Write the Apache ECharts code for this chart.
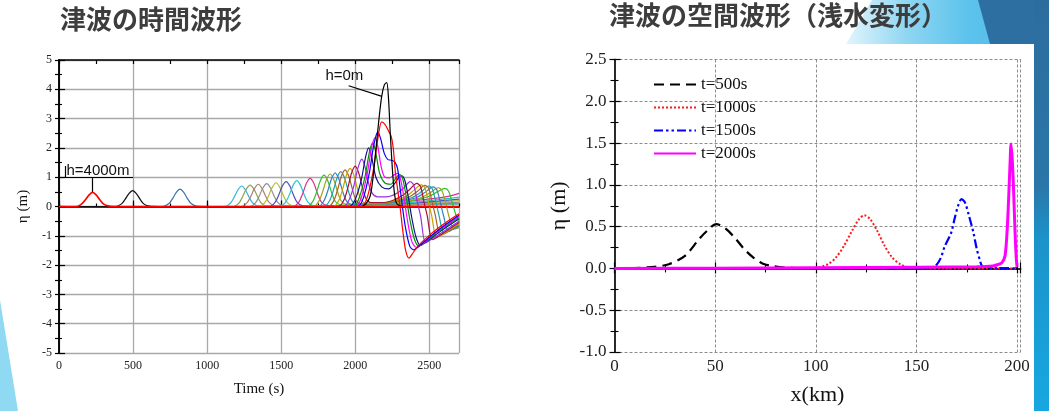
<!DOCTYPE html>
<html><head><meta charset="utf-8">
<script src="https://cdn.jsdelivr.net/npm/echarts@6/dist/echarts.min.js"></script>
<style>html,body{margin:0;padding:0;background:#fff}#c{width:1049px;height:411px}</style>
</head><body><div id="c"></div>
<script>
// ---------- Left chart: tsunami time waveforms (t [s], eta [m]) ----------
const leftXTicks = [0, 500, 1000, 1500, 2000, 2500];
const leftYTicks = [-5, -4, -3, -2, -1, 0, 1, 2, 3, 4, 5];
const h4000 = [[0,0],[117,0],[152,0.08],[177,0.22],[202,0.39],[227,0.48],[252,0.39],[277,0.22],[302,0.08],[340,0.01],[400,0],[2700,0]];
const g02 = [[0,0],[380,0],[422,0.09],[447,0.25],[472,0.44],[497,0.54],[522,0.44],[547,0.25],[572,0.09],[610,0.01],[680,0],[2700,0]];
const g03 = [[0,0],[700,0],[742,0.1],[767,0.27],[792,0.48],[817,0.59],[842,0.48],[867,0.27],[892,0.1],[930,0.01],[1000,0],[2700,0]];
const b01 = [[0,0],[1120,0],[1158,0.12],[1183,0.32],[1208,0.57],[1233,0.7],[1258,0.57],[1283,0.32],[1308,0.12],[1345,0.02],[1500,0.01],[2000,0.02],[2400,0.05],[2700,0.08]];
const b02 = [[0,0],[1177,0],[1215,0.12],[1240,0.34],[1265,0.6],[1290,0.73],[1315,0.6],[1340,0.34],[1365,0.12],[1402,0.02],[1550,0.01],[2000,0.02],[2400,0.06],[2700,0.1]];
const b03 = [[0,0],[1232,0],[1270,0.13],[1295,0.35],[1320,0.62],[1345,0.76],[1370,0.62],[1395,0.35],[1420,0.13],[1457,0.02],[1600,0.01],[2000,0.03],[2400,0.07],[2700,0.12]];
const b04 = [[0,0],[1290,0],[1327,0.13],[1352,0.36],[1377,0.64],[1402,0.78],[1427,0.64],[1452,0.36],[1477,0.13],[1514,0.02],[1650,0.01],[2000,0.03],[2400,0.08],[2700,0.15]];
const b05 = [[0,0],[1352,0],[1390,0.14],[1415,0.37],[1440,0.66],[1465,0.81],[1490,0.66],[1515,0.37],[1540,0.14],[1577,0.02],[1700,0.01],[2000,0.03],[2400,0.1],[2700,0.2]];
const b06 = [[0,0],[1420,0],[1458,0.14],[1483,0.39],[1508,0.7],[1533,0.85],[1558,0.7],[1583,0.39],[1608,0.14],[1645,0.02],[1750,0.01],[2000,0.04],[2400,0.12],[2700,0.25]];
const b07 = [[0,0],[1492,0],[1530,0.15],[1555,0.4],[1580,0.72],[1605,0.88],[1630,0.72],[1655,0.4],[1680,0.15],[1717,0.03],[1800,0.02],[2000,0.05],[2400,0.15],[2700,0.32]];
const b08 = [[0,0],[1582,0],[1620,0.16],[1645,0.44],[1670,0.79],[1695,0.96],[1720,0.79],[1745,0.44],[1770,0.16],[1807,0.04],[1900,0.03],[2100,0.07],[2400,0.2],[2600,0.32],[2700,0.45]];
const b09 = [[0,0],[1676,0],[1714,0.18],[1739,0.49],[1764,0.88],[1789,1.07],[1814,0.88],[1839,0.49],[1864,0.18],[1900,0.06],[2000,0.05],[2200,0.1],[2400,0.22],[2500,0.35],[2560,0.52],[2605,0.62],[2630,0.52],[2655,0.12],[2680,-0.3],[2700,-0.55]];
const b10 = [[0,0],[1717,0],[1755,0.19],[1780,0.51],[1805,0.91],[1830,1.11],[1855,0.91],[1880,0.51],[1905,0.19],[1940,0.07],[2050,0.06],[2250,0.12],[2420,0.26],[2500,0.45],[2560,0.64],[2585,0.54],[2610,0.12],[2630,-0.3],[2665,-0.77],[2700,-0.72]];
const b11 = [[0,0],[1751,0],[1789,0.2],[1814,0.53],[1839,0.94],[1864,1.15],[1889,0.94],[1914,0.53],[1939,0.2],[1975,0.07],[2080,0.07],[2250,0.14],[2400,0.28],[2470,0.48],[2525,0.67],[2550,0.57],[2575,0.12],[2595,-0.3],[2630,-0.85],[2665,-0.76],[2700,-0.68]];
const b12 = [[0,0],[1789,0],[1827,0.2],[1852,0.55],[1877,0.98],[1902,1.19],[1927,0.98],[1952,0.55],[1977,0.2],[2012,0.08],[2100,0.08],[2250,0.15],[2380,0.3],[2445,0.5],[2495,0.7],[2520,0.6],[2545,0.12],[2565,-0.3],[2600,-0.93],[2640,-0.82],[2700,-0.65]];
const b13 = [[0,0],[1818,0],[1856,0.21],[1881,0.58],[1906,1.03],[1931,1.25],[1956,1.03],[1981,0.58],[2006,0.21],[2041,0.09],[2120,0.09],[2250,0.16],[2360,0.32],[2420,0.52],[2470,0.72],[2495,0.62],[2520,0.12],[2540,-0.3],[2575,-0.99],[2615,-0.88],[2700,-0.62]];
const b14 = [[0,0],[1852,0],[1890,0.22],[1915,0.6],[1940,1.07],[1965,1.3],[1990,1.07],[2015,0.6],[2040,0.22],[2075,0.1],[2150,0.1],[2250,0.18],[2340,0.34],[2395,0.55],[2445,0.74],[2470,0.64],[2495,0.12],[2515,-0.3],[2550,-1.06],[2590,-0.95],[2700,-0.58]];
const b15 = [[0,0],[1886,0],[1924,0.23],[1949,0.63],[1974,1.13],[1999,1.38],[2024,1.13],[2049,0.63],[2074,0.25],[2105,0.13],[2180,0.13],[2260,0.22],[2320,0.38],[2370,0.6],[2415,0.79],[2440,0.68],[2465,0.12],[2485,-0.3],[2520,-1.13],[2560,-1.02],[2700,-0.55]];
const b16 = [[0,0],[1920,0],[1960,0.25],[1990,0.7],[2020,1.35],[2044,1.62],[2066,1.35],[2090,0.78],[2115,0.45],[2150,0.33],[2220,0.34],[2290,0.48],[2335,0.68],[2370,0.85],[2395,0.72],[2420,0.12],[2440,-0.3],[2475,-1.24],[2515,-1.12],[2700,-0.5]];
const b17 = [[0,0],[1960,0],[2000,0.25],[2040,0.9],[2070,1.7],[2090,2.0],[2110,1.7],[2140,0.98],[2180,0.66],[2225,0.6],[2265,0.78],[2295,1.0],[2313,1.05],[2335,0.88],[2362,0.2],[2380,-0.35],[2410,-1.05],[2440,-1.33],[2475,-1.22],[2560,-0.9],[2700,-0.42]];
const b18 = [[0,0],[1985,0],[2025,0.28],[2065,1.0],[2095,1.85],[2118,2.18],[2138,1.85],[2165,1.12],[2200,0.8],[2240,0.76],[2272,0.95],[2298,1.1],[2320,0.95],[2348,0.2],[2365,-0.35],[2398,-1.1],[2430,-1.35],[2465,-1.24],[2560,-0.85],[2700,-0.38]];
const b19 = [[0,0],[2000,0],[2040,0.3],[2080,1.1],[2110,2.0],[2133,2.35],[2152,2.05],[2175,1.35],[2200,1.0],[2232,0.98],[2262,1.08],[2286,1.13],[2306,0.92],[2332,0.2],[2348,-0.35],[2382,-1.2],[2415,-1.4],[2450,-1.28],[2560,-0.82],[2700,-0.34]];
const b20 = [[0,0],[2015,0],[2055,0.3],[2095,1.15],[2125,2.1],[2152,2.55],[2172,2.3],[2195,1.82],[2220,1.6],[2245,1.58],[2266,1.52],[2285,1.3],[2303,0.6],[2318,0.0],[2338,-0.7],[2368,-1.36],[2395,-1.48],[2430,-1.35],[2500,-1.05],[2600,-0.65],[2700,-0.3]];
const b21 = [[0,0],[2040,0],[2080,0.3],[2120,1.2],[2155,2.4],[2178,2.89],[2200,2.8],[2222,2.6],[2242,2.4],[2256,2.0],[2270,1.2],[2288,0.5],[2302,0.0],[2320,-0.8],[2340,-1.5],[2362,-1.76],[2385,-1.62],[2420,-1.37],[2480,-1.07],[2580,-0.66],[2700,-0.25]];
const h0 = [[0,0],[2040,0],[2070,0.08],[2100,0.35],[2120,1.0],[2140,2.0],[2160,3.0],[2178,3.75],[2196,4.15],[2212,4.23],[2224,3.7],[2236,2.5],[2250,1.3],[2262,0.55],[2275,0.15],[2295,0.03],[2330,0],[2700,0]];
const leftCurves = [b01,b02,b03,b04,b05,b06,b07,b08,b09,b10,b11,b12,b13,b14,b15,b16,b17,b18,b19,b20,b21,h0,g03,g02,h4000];
const leftColors = ['#3cb6d6','#8da552','#b57b7b','#8f8f8f','#b8b83a','#4e4eb4','#28c2cc','#d8308f','#2ec22e','#a3a31c','#3a7ccc','#1fa2a8','#a8622c','#c9a200','#a3142e','#9b2ee8','#10108c','#009000','#ff00ff','#0000ff','#ff0000','#000000','#3a70ae','#111111','#ff0000'];
// annotations (data coordinates)
const arrow4000 = [[225,0.97],[225,0.5]];
const arrow0 = [[1955,4.12],[2180,3.76]];
const label4000 = [47,1.21];
const label0 = [1795,4.45];

// ---------- Right chart: spatial waveforms (x [km], eta [m]) ----------
const rightXTicks = [0, 50, 100, 150, 200];
const rightYTicks = [-1.0, -0.5, 0.0, 0.5, 1.0, 1.5, 2.0, 2.5];
const legendNames = ['t=500s','t=1000s','t=1500s','t=2000s'];
const t500 = [[0,0],[10,0.005],[20,0.02],[27,0.05],[35,0.15],[42,0.35],[46,0.45],[50.5,0.53],[55,0.48],[60,0.36],[64.5,0.23],[69,0.13],[73.5,0.06],[78,0.03],[85,0.01],[95,0.003],[110,0],[200,0]];
const t1000 = [[0,0],[95,0.003],[101,0.012],[106,0.05],[110,0.13],[114,0.27],[118,0.45],[121.5,0.59],[124.2,0.635],[127,0.59],[130.5,0.45],[134.2,0.27],[138,0.13],[142,0.05],[146,0.015],[152,0.004],[165,0],[200,0]];
const t1500 = [[0,0],[150,0.002],[157,0.01],[159.5,0.03],[162,0.12],[164,0.26],[167.3,0.43],[169,0.6],[170.7,0.75],[172.4,0.83],[174.1,0.79],[176,0.64],[178.3,0.43],[180,0.23],[181.5,0.1],[182.6,0.03],[185,0.01],[190,0.003],[200,0]];
const t2000 = [[0,0],[50,0.002],[100,0.008],[150,0.015],[180,0.02],[188,0.03],[191,0.05],[192.5,0.07],[194,0.15],[195,0.43],[195.8,0.83],[196.5,1.25],[197,1.49],[197.6,1.3],[198.2,0.98],[199,0.43],[199.6,0.12],[200,0.02]];
const rightCurves = [t500, t1000, t1500, t2000];
const rightColors = ['#000000','#ff1a1a','#0000ff','#ff00ff'];
const rightDash = [[10,6],[2,2],[9,3,2.5,3,2.5,3],'solid'];
const rightWidth = [2.2, 2, 2.2, 3];

const SERIF = 'Liberation Serif';
const chart = echarts.init(document.getElementById('c'), null, {renderer:'canvas'});

const leftSeries = leftCurves.map((d, i) => ({
  type:'line', xAxisIndex:0, yAxisIndex:0, data:d, symbol:'none', smooth:0.3,
  lineStyle:{color:leftColors[i], width: i === leftCurves.length-1 ? 1.7 : 1.2},
  itemStyle:{color:leftColors[i]}, z:3, silent:true
}));
const last = leftSeries[leftSeries.length-1];
last.markLine = {
  silent:true, animation:false, label:{show:false},
  lineStyle:{color:'#000', width:1.2, type:'solid'},
  symbol:['none','arrow'], symbolSize:[0,8],
  data:[
    [{coord:arrow4000[0]},{coord:arrow4000[1]}],
    [{coord:arrow0[0]},{coord:arrow0[1]}],
    [{coord:[40,1.38], symbol:'none'},{coord:[40,1.0], symbol:'none'}],
    [{coord:[40,1.0], symbol:'none'},{coord:[500,1.0], symbol:'none'}]
  ]
};
last.markPoint = {
  silent:true, animation:false, symbol:'circle', symbolSize:1, itemStyle:{color:'rgba(0,0,0,0)'},
  label:{show:true, position:'right', distance:0, color:'#111', fontFamily:'Liberation Sans', fontSize:15},
  data:[
    {coord:label4000, label:{formatter:'h=4000m'}},
    {coord:label0, label:{formatter:'h=0m'}}
  ]
};

const rightSeries = rightCurves.map((d, i) => ({
  name:legendNames[i], type:'line', xAxisIndex:3, yAxisIndex:2, data:d, symbol:'none', smooth:0.3,
  lineStyle:{color:rightColors[i], width:rightWidth[i], type:rightDash[i]},
  itemStyle:{color:rightColors[i]}, z:3, silent:true
}));

const axBlack = {show:true, lineStyle:{color:'#000', width:1.5}};
const tickIn = (len) => ({show:true, inside:true, length:len, lineStyle:{color:'#000', width:1.2}});
const gridL = {show:true, lineStyle:{color:'#a8a8a8', width:1.3}};
const gridR = {show:true, lineStyle:{color:'#8c8c8c', width:1, type:[3,2]}};

const option = {
  animation:false,
  backgroundColor:'#ffffff',
  textStyle:{fontFamily:SERIF},
  graphic:[
    {type:'polygon', z:-10, shape:{points:[[0,300],[18,411],[0,411]]}, style:{fill:'#8fd9f3'}},
    {type:'polygon', z:-10, shape:{points:[[872,0],[1049,0],[1049,44],[846,44]]},
      style:{fill:new echarts.graphic.LinearGradient(0,0,1,0,[{offset:0,color:'#e2f5fc'},{offset:0.3,color:'#8fd6f2'},{offset:0.6,color:'#5cc3ec'},{offset:1,color:'#4fb8e6'}])}},
    {type:'polygon', z:-9, shape:{points:[[978,0],[1049,0],[1049,44],[990,44]]}, style:{fill:'#2c6fa0'}},
    {type:'rect', z:-9, shape:{x:1034, y:0, width:15, height:411},
      style:{fill:new echarts.graphic.LinearGradient(0,0,0,1,[{offset:0,color:'#2c6d9e'},{offset:0.45,color:'#2a76a8'},{offset:0.58,color:'#1b93ca'},{offset:1,color:'#17a7e0'}])}}
  ],
  title:[
    {text:'津波の時間波形', left:60, top:6, padding:0, textStyle:{fontFamily:'Noto Sans CJK JP', fontSize:26, fontWeight:'bold', color:'#3d3d3d'}},
    {text:'津波の空間波形（浅水変形）', left:609, top:2, padding:0, textStyle:{fontFamily:'Noto Sans CJK JP', fontSize:26, fontWeight:'bold', color:'#3d3d3d'}}
  ],
  legend:{
    data:legendNames, orient:'vertical', left:648, top:71, itemWidth:42, itemHeight:14, itemGap:6,
    itemStyle:{opacity:0},
    textStyle:{fontFamily:SERIF, fontSize:17, color:'#111'}, selectedMode:false, backgroundColor:'rgba(0,0,0,0)'
  },
  grid:[
    {left:59, top:60, width:400, height:293, show:true, backgroundColor:'#fff', borderWidth:0},
    {left:614.5, top:59.5, width:406, height:293.8, show:true, backgroundColor:'#fff', borderWidth:0}
  ],
  xAxis:[
    {gridIndex:0, type:'value', min:leftXTicks[0], max:2700, interval:leftXTicks[1]-leftXTicks[0], position:'bottom',
      axisLine:axBlack, axisTick:tickIn(6),
      axisLabel:{showMaxLabel:false, fontFamily:SERIF, fontSize:12, color:'#222', margin:7, formatter:(v)=>String(v)},
      splitLine:gridL, name:'Time (s)', nameLocation:'middle', nameGap:29,
      nameTextStyle:{fontFamily:SERIF, fontSize:15, color:'#111'}},
    {gridIndex:0, type:'value', min:0, max:2700, interval:250, position:'bottom',
      axisLine:{show:false}, axisTick:tickIn(3), axisLabel:{show:false}, splitLine:{show:false}},
    {gridIndex:0, type:'value', min:0, max:2700, interval:250, position:'top',
      axisLine:axBlack, axisTick:tickIn(4), axisLabel:{show:false}, splitLine:{show:false}},
    {gridIndex:1, type:'value', min:rightXTicks[0], max:201.7, interval:rightXTicks[1]-rightXTicks[0], position:'bottom',
      axisLine:{show:true, lineStyle:{color:'#222', width:1.6}}, axisTick:tickIn(6),
      minorTick:{show:true, splitNumber:2, length:4, lineStyle:{color:'#000', width:1.1}},
      axisLabel:{showMaxLabel:false, fontFamily:SERIF, fontSize:17, color:'#222', margin:6, formatter:(v)=>String(v)},
      splitLine:gridR, name:'x(km)', nameLocation:'middle', nameGap:32,
      nameTextStyle:{fontFamily:SERIF, fontSize:22, color:'#111'}},
    {gridIndex:1, type:'value', min:0, max:201.7, interval:50, position:'top',
      axisLine:{show:true, lineStyle:{color:'#222', width:1.6}}, axisTick:tickIn(5),
      minorTick:{show:true, splitNumber:2, length:4, lineStyle:{color:'#000', width:1.1}},
      axisLabel:{show:false}, splitLine:{show:false}}
  ],
  yAxis:[
    {gridIndex:0, type:'value', min:leftYTicks[0], max:leftYTicks[leftYTicks.length-1], interval:1, position:'left',
      axisLine:axBlack, axisTick:tickIn(6),
      minorTick:{show:true, splitNumber:2, length:3, lineStyle:{color:'#000', width:1.1}},
      axisLabel:{fontFamily:SERIF, fontSize:12, color:'#222', margin:7},
      splitLine:gridL, name:'η (m)', nameLocation:'middle', nameGap:28,
      nameTextStyle:{fontFamily:SERIF, fontSize:15, color:'#111'}},
    {gridIndex:0, type:'value', min:-5, max:5, interval:0.5, position:'right',
      axisLine:axBlack, axisTick:tickIn(4), axisLabel:{show:false}, splitLine:{show:false}},
    {gridIndex:1, type:'value', min:rightYTicks[0], max:rightYTicks[rightYTicks.length-1], interval:0.5, position:'left',
      axisLine:{show:true, lineStyle:{color:'#222', width:1.6}}, axisTick:tickIn(6),
      minorTick:{show:true, splitNumber:2, length:4, lineStyle:{color:'#000', width:1.1}},
      axisLabel:{fontFamily:SERIF, fontSize:17, color:'#222', margin:8, formatter:(v)=>v.toFixed(1)},
      splitLine:gridR, name:'η (m)', nameLocation:'middle', nameGap:44,
      nameTextStyle:{fontFamily:SERIF, fontSize:22, color:'#111'}},
    {gridIndex:1, type:'value', min:-1, max:2.5, interval:0.5, position:'right',
      axisLine:{show:true, lineStyle:{color:'#222', width:1.6}}, axisTick:tickIn(5),
      minorTick:{show:true, splitNumber:2, length:4, lineStyle:{color:'#000', width:1.1}},
      axisLabel:{show:false}, splitLine:{show:false}}
  ],
  series:[...leftSeries, ...rightSeries]
};
chart.setOption(option);
</script></body></html>
